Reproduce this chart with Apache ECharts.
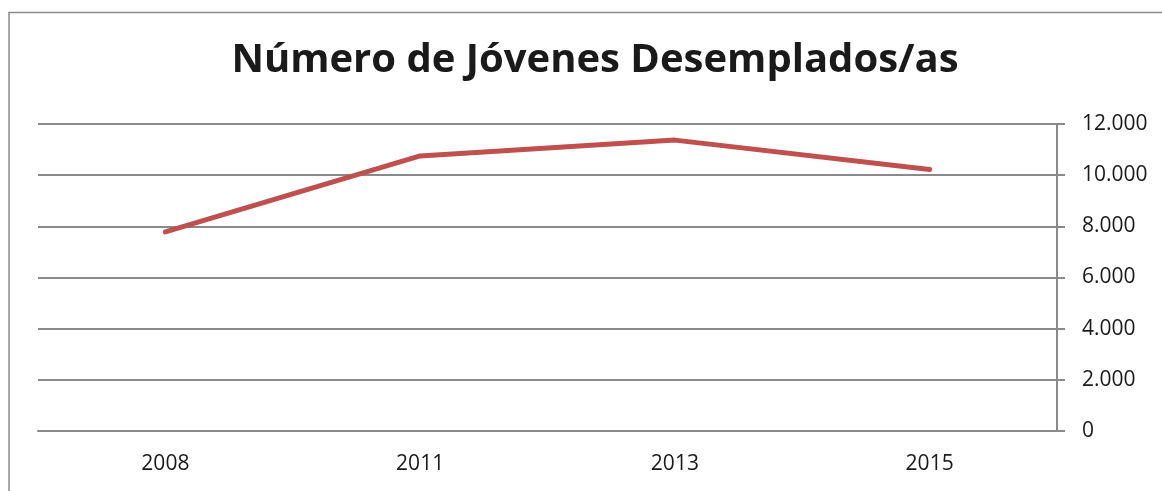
<!DOCTYPE html>
<html>
<head>
<meta charset="utf-8">
<script src="https://cdn.jsdelivr.net/npm/echarts@6/dist/echarts.min.js"></script>
<style>
  html, body { margin: 0; padding: 0; background: #fff; }
  #chart { width: 1162px; height: 491px; }
</style>
</head>
<body>
<div id="chart"></div>
<script>
// datos
const years = ['2008', '2011', '2013', '2015'];
const desempleados = [7780, 10750, 11370, 10220];
const yTicks = [0, 2000, 4000, 6000, 8000, 10000, 12000];

let chart = echarts.init(document.getElementById('chart'));
chart.setOption({
  animation: false,
  title: {
    text: 'Número de Jóvenes Desemplados/as',
    left: 590,
    textAlign: 'center',
    top: 36,
    textStyle: {
      fontFamily: 'Open Sans',
      fontWeight: 'bold',
      fontSize: 40,
      color: '#1a1a1a'
    }
  },
  // marco exterior
  graphic: [
    {
      type: 'polyline',
      shape: { points: [[9, 491], [9, 12.5], [1162, 12.5]] },
      style: { stroke: '#8a8a8a', lineWidth: 1.5, fill: null }
    }
  ],
  grid: {
    left: 38,
    right: 105,
    top: 124,
    bottom: 60
  },
  xAxis: {
    type: 'category',
    data: years,
    boundaryGap: true,
    axisLine: { show: true, lineStyle: { color: '#8a8a8a', width: 2 } },
    axisTick: { show: false },
    axisLabel: {
      margin: 23,
      fontFamily: 'Open Sans',
      fontSize: 21,
      color: '#1a1a1a'
    }
  },
  yAxis: {
    type: 'value',
    position: 'right',
    min: yTicks[0],
    max: yTicks[yTicks.length - 1],
    interval: 2000,
    axisLine: { show: true, lineStyle: { color: '#8a8a8a', width: 2 } },
    axisTick: { show: true, length: 8, lineStyle: { color: '#8a8a8a', width: 2 } },
    splitLine: { show: true, lineStyle: { color: '#8a8a8a', width: 2 } },
    axisLabel: {
      margin: 25,
      fontFamily: 'Open Sans',
      fontSize: 21,
      color: '#1a1a1a',
      formatter: function (v) {
        return v.toString().replace(/\B(?=(\d{3})+(?!\d))/g, '.');
      }
    }
  },
  series: [
    {
      type: 'line',
      data: desempleados,
      symbol: 'none',
      lineStyle: { color: '#c0504d', width: 5, cap: 'round', join: 'round' }
    }
  ]
});
</script>
</body>
</html>
